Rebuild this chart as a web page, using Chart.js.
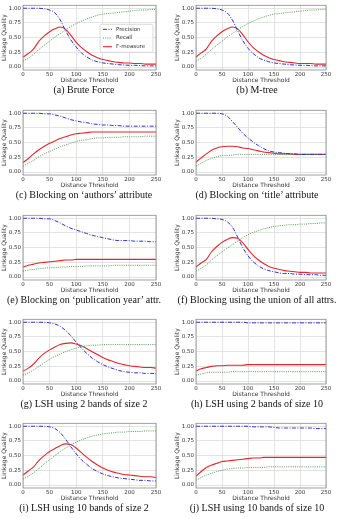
<!DOCTYPE html>
<html>
<head>
<meta charset="utf-8">
<script src="https://cdn.jsdelivr.net/npm/chart.js@4.4.1/dist/chart.umd.min.js"></script>
<style>
body { margin: 0; background: #fff; width: 339px; height: 519px; position: relative; overflow: hidden; }
canvas.panel { position: absolute; }
.caption { position: absolute; width: 180px; text-align: center; white-space: nowrap;
    font-family: 'Liberation Serif', serif; font-size: 10px; color: #111; }
</style>
</head>
<body>
<div id="figure"></div>
<script>

const thresholds = [0, 10, 20, 30, 40, 50, 60, 70, 80, 90, 100, 110, 120, 130,
    140, 150, 160, 170, 180, 190, 200, 210, 220, 230, 240, 250];
const xTicks = [0, 50, 100, 150, 200, 250];
const yTicks = [0, 0.25, 0.5, 0.75, 1.0];
const seriesNames = ['Precision', 'Recall', 'F-measure'];

// (a) Brute Force
const bruteP = [1.00,1.00,1.00,1.00,0.99,0.97,0.92,0.80,0.62,0.46,0.34,0.24,0.17,0.12,0.09,0.07,0.06,0.05,0.04,0.035,0.03,0.03,0.025,0.02,0.02,0.02];
const bruteR = [0.10,0.15,0.22,0.30,0.37,0.44,0.51,0.57,0.63,0.69,0.74,0.78,0.82,0.85,0.88,0.90,0.91,0.92,0.93,0.94,0.95,0.96,0.97,0.97,0.98,0.98];
const bruteF = [0.17,0.23,0.31,0.44,0.53,0.60,0.65,0.68,0.64,0.54,0.42,0.33,0.26,0.20,0.16,0.13,0.11,0.09,0.08,0.07,0.07,0.06,0.06,0.05,0.05,0.05];

// (b) M-tree
const mtreeP = [1.00,1.00,1.00,1.00,0.99,0.97,0.92,0.80,0.62,0.45,0.32,0.23,0.16,0.12,0.09,0.07,0.06,0.05,0.04,0.035,0.03,0.03,0.025,0.02,0.02,0.02];
const mtreeR = [0.10,0.15,0.22,0.30,0.37,0.44,0.51,0.57,0.63,0.69,0.74,0.78,0.82,0.85,0.88,0.90,0.91,0.92,0.93,0.94,0.95,0.96,0.97,0.97,0.98,0.98];
const mtreeF = [0.17,0.24,0.31,0.44,0.53,0.60,0.65,0.68,0.65,0.55,0.43,0.33,0.26,0.20,0.16,0.13,0.11,0.09,0.08,0.07,0.06,0.06,0.06,0.05,0.05,0.05];

// (c) Blocking on authors
const authorsP = [1.00,1.00,1.00,1.00,0.99,0.99,0.97,0.95,0.92,0.89,0.87,0.85,0.84,0.82,0.81,0.80,0.80,0.79,0.79,0.78,0.78,0.78,0.78,0.78,0.78,0.78];
const authorsR = [0.10,0.15,0.20,0.26,0.31,0.35,0.39,0.43,0.46,0.49,0.52,0.54,0.55,0.57,0.58,0.58,0.59,0.59,0.59,0.60,0.60,0.60,0.60,0.61,0.61,0.61];
const authorsF = [0.16,0.23,0.31,0.38,0.44,0.49,0.53,0.57,0.60,0.63,0.65,0.66,0.67,0.68,0.68,0.68,0.68,0.68,0.68,0.68,0.68,0.68,0.68,0.68,0.68,0.68];

// (d) Blocking on title
const titleP = [1.00,1.00,1.00,1.00,1.00,0.99,0.95,0.86,0.76,0.66,0.58,0.51,0.45,0.40,0.36,0.34,0.33,0.32,0.31,0.31,0.30,0.30,0.30,0.30,0.30,0.30];
const titleR = [0.10,0.15,0.20,0.23,0.26,0.28,0.28,0.29,0.30,0.30,0.30,0.30,0.30,0.30,0.30,0.30,0.30,0.30,0.30,0.30,0.30,0.30,0.30,0.30,0.30,0.30];
const titleF = [0.17,0.24,0.31,0.37,0.41,0.43,0.44,0.44,0.43,0.41,0.40,0.38,0.36,0.34,0.33,0.32,0.31,0.31,0.31,0.30,0.30,0.30,0.30,0.30,0.30,0.30];

// (e) Blocking on publication year
const yearP = [1.00,1.00,1.00,1.00,0.99,0.99,0.96,0.92,0.87,0.83,0.80,0.77,0.74,0.71,0.69,0.67,0.65,0.63,0.62,0.62,0.62,0.61,0.61,0.61,0.60,0.60];
const yearR = [0.10,0.12,0.13,0.14,0.15,0.16,0.16,0.17,0.17,0.18,0.18,0.18,0.19,0.19,0.19,0.19,0.19,0.20,0.20,0.20,0.20,0.20,0.20,0.20,0.20,0.20];
const yearF = [0.17,0.20,0.22,0.24,0.25,0.26,0.27,0.28,0.29,0.29,0.30,0.30,0.30,0.30,0.30,0.30,0.30,0.30,0.30,0.30,0.30,0.30,0.30,0.30,0.30,0.30];

// (f) Blocking using the union of all attrs
const unionP = [1.00,1.00,1.00,1.00,0.99,0.98,0.94,0.85,0.68,0.50,0.36,0.26,0.19,0.14,0.11,0.09,0.07,0.06,0.06,0.05,0.05,0.04,0.04,0.04,0.03,0.03];
const unionR = [0.10,0.15,0.21,0.29,0.36,0.43,0.49,0.55,0.61,0.67,0.72,0.76,0.79,0.82,0.84,0.86,0.87,0.88,0.89,0.89,0.90,0.90,0.91,0.91,0.92,0.92];
const unionF = [0.17,0.24,0.30,0.43,0.52,0.59,0.64,0.67,0.66,0.58,0.47,0.37,0.29,0.23,0.18,0.15,0.13,0.11,0.10,0.09,0.08,0.08,0.07,0.07,0.07,0.07];

// (g) LSH, 2 bands of size 2
const lsh2x2P = [1.00,1.00,1.00,1.00,1.00,0.99,0.97,0.93,0.86,0.77,0.66,0.56,0.47,0.39,0.33,0.28,0.24,0.21,0.18,0.16,0.15,0.14,0.14,0.13,0.13,0.13];
const lsh2x2R = [0.10,0.14,0.19,0.25,0.31,0.37,0.42,0.46,0.50,0.53,0.56,0.58,0.60,0.61,0.61,0.62,0.62,0.62,0.62,0.62,0.62,0.62,0.62,0.62,0.62,0.62];
const lsh2x2F = [0.17,0.22,0.29,0.39,0.47,0.53,0.58,0.62,0.64,0.65,0.63,0.60,0.55,0.50,0.45,0.40,0.36,0.33,0.30,0.28,0.26,0.25,0.24,0.23,0.23,0.22];

// (h) LSH, 2 bands of size 10
const lsh2x10P = [1.00,1.00,1.00,1.00,1.00,1.00,1.00,1.00,1.00,1.00,0.99,0.99,0.99,0.99,0.99,0.99,0.99,0.99,0.99,0.99,0.99,0.99,0.99,0.99,0.99,0.99];
const lsh2x10R = [0.10,0.12,0.14,0.15,0.15,0.15,0.15,0.16,0.16,0.16,0.16,0.16,0.16,0.16,0.16,0.16,0.16,0.16,0.16,0.16,0.16,0.16,0.16,0.16,0.16,0.16];
const lsh2x10F = [0.17,0.21,0.23,0.25,0.26,0.26,0.27,0.27,0.27,0.27,0.28,0.28,0.28,0.28,0.28,0.28,0.28,0.28,0.28,0.28,0.28,0.28,0.28,0.28,0.28,0.28];

// (i) LSH, 10 bands of size 2
const lsh10x2P = [1.00,1.00,1.00,1.00,1.00,0.99,0.96,0.89,0.78,0.65,0.53,0.43,0.35,0.28,0.23,0.19,0.16,0.14,0.12,0.11,0.10,0.09,0.08,0.08,0.07,0.07];
const lsh10x2R = [0.10,0.15,0.21,0.28,0.36,0.43,0.50,0.57,0.63,0.68,0.73,0.77,0.80,0.83,0.85,0.87,0.88,0.89,0.90,0.90,0.91,0.91,0.91,0.92,0.92,0.92];
const lsh10x2F = [0.17,0.24,0.31,0.42,0.50,0.57,0.62,0.67,0.70,0.69,0.63,0.55,0.47,0.40,0.34,0.29,0.25,0.22,0.20,0.18,0.17,0.16,0.15,0.14,0.14,0.13];

// (j) LSH, 10 bands of size 10
const lsh10x10P = [1.00,1.00,1.00,1.00,1.00,1.00,1.00,1.00,1.00,1.00,1.00,0.99,0.99,0.99,0.99,0.98,0.97,0.97,0.97,0.97,0.97,0.97,0.97,0.96,0.96,0.96];
const lsh10x10R = [0.08,0.13,0.17,0.20,0.23,0.25,0.27,0.28,0.29,0.29,0.30,0.30,0.30,0.30,0.31,0.31,0.31,0.31,0.31,0.31,0.31,0.31,0.31,0.31,0.31,0.31];
const lsh10x10F = [0.15,0.23,0.30,0.34,0.37,0.40,0.41,0.42,0.43,0.44,0.45,0.46,0.46,0.47,0.47,0.47,0.47,0.47,0.47,0.47,0.47,0.47,0.47,0.47,0.47,0.47];


const panels = [
    ['(a) Brute Force', bruteP, bruteR, bruteF],
    ['(b) M-tree', mtreeP, mtreeR, mtreeF],
    ['(c) Blocking on \u2018authors\u2019 attribute', authorsP, authorsR, authorsF],
    ['(d) Blocking on \u2018title\u2019 attribute', titleP, titleR, titleF],
    ['(e) Blocking on \u2018publication year\u2019 attr.', yearP, yearR, yearF],
    ['(f) Blocking using the union of all attrs.', unionP, unionR, unionF],
    ['(g) LSH using 2 bands of size 2', lsh2x2P, lsh2x2R, lsh2x2F],
    ['(h) LSH using 2 bands of size 10', lsh2x10P, lsh2x10R, lsh2x10F],
    ['(i) LSH using 10 bands of size 2', lsh10x2P, lsh10x2R, lsh10x2F],
    ['(j) LSH using 10 bands of size 10', lsh10x10P, lsh10x10R, lsh10x10F],
];


// Layout of the 5 x 2 grid

const rowTops = [0, 105, 210, 314, 418];
const colLefts = [0, 171];
const yAxisWidth = [23, 25];
const canvasW = 168, canvasH = 86;

const lineStyles = [
    {color: '#2f2fd6', dash: [4, 1.5, 1, 1.5], width: 1},
    {color: '#4f9f4f', dash: [1, 1.2], width: 1},
    {color: '#e2262c', dash: [], width: 1.1},
];


// frame around the plot area, drawn over the lines
const framePlugin = {
    id: 'frame',
    afterDatasetsDraw(chart) {
        const {ctx, chartArea: a} = chart;
        ctx.save();
        ctx.strokeStyle = '#8a8a8a';
        ctx.lineWidth = 0.8;
        ctx.strokeRect(a.left, a.top, a.right - a.left, a.bottom - a.top);
        ctx.restore();
    }
};

// legend placed inside the plot, only on the first panel
const insideLegend = {
    id: 'insideLegend',
    afterDraw(chart, args, opts) {
        if (!opts.show) return;
        const {ctx, chartArea: a} = chart;
        const w = 53, h = 28;
        const x = a.right - w - 3, y = a.top + 19;
        ctx.save();
        ctx.fillStyle = 'rgba(255,255,255,0.85)';
        ctx.strokeStyle = '#d0d0d0';
        ctx.lineWidth = 0.8;
        ctx.beginPath();
        ctx.roundRect(x, y, w, h, 2);
        ctx.fill();
        ctx.stroke();
        ctx.font = '5.5px "DejaVu Sans"';
        ctx.textBaseline = 'middle';
        chart.data.datasets.forEach((ds, i) => {
            const ly = y + 5 + i * 8.7;
            ctx.strokeStyle = ds.borderColor;
            ctx.lineWidth = ds.borderWidth;
            ctx.setLineDash(ds.borderDash);
            ctx.beginPath();
            ctx.moveTo(x + 3, ly);
            ctx.lineTo(x + 12, ly);
            ctx.stroke();
            ctx.setLineDash([]);
            ctx.fillStyle = '#333';
            ctx.fillText(ds.label, x + 16, ly);
        });
        ctx.restore();
    }
};


function make_panel(i, caption, prec, rec, fm) {

    var col = i % 2;
    var row = Math.floor(i / 2);
    var left = colLefts[col];
    var top = rowTops[row];

    var canvas = document.createElement('canvas');
    canvas.className = 'panel';
    canvas.width = canvasW;
    canvas.height = canvasH;
    canvas.style.left = left + 'px';
    canvas.style.top = top + 'px';
    document.body.appendChild(canvas);

    var cap = document.createElement('div');
    cap.className = 'caption';
    cap.textContent = caption;
    cap.style.left = (left + yAxisWidth[col] + 66 - 5 - 90) + 'px';
    cap.style.top = (top + 84) + 'px';
    document.body.appendChild(cap);

    var datasets = [prec, rec, fm].map(function(arr, s) {
        return {
            label: seriesNames[s],
            data: thresholds.map(function(t, k) { return {x: t, y: arr[k]}; }),
            borderColor: lineStyles[s].color,
            borderDash: lineStyles[s].dash,
            borderWidth: lineStyles[s].width,
            pointRadius: 0,
            fill: false,
            cubicInterpolationMode: 'monotone',
        };
    });
    // draw F-measure last? keep matplotlib order: precision, recall, f-measure
    new Chart(canvas.getContext('2d'), {
        type: 'line',
        data: {datasets: datasets},
        plugins: [framePlugin, insideLegend],
        options: {
            responsive: false,
            animation: false,
            events: [],
            layout: {padding: {top: 4, right: canvasW - (yAxisWidth[col] + 133 - col * 3), left: 0, bottom: 0}},
            scales: {
                x: {
                    type: 'linear',
                    min: 0, max: 250,
                    afterBuildTicks: function(s) { s.ticks = xTicks.map(function(v) { return {value: v}; }); },
                    afterFit: function(s) { s.height = canvasH - 70; },
                    grid: {color: '#dcdcdc', lineWidth: 0.8, drawTicks: false},
                    border: {display: false},
                    ticks: {padding: 1, color: '#333', font: {family: 'DejaVu Sans', size: 5.5},
                        maxRotation: 0, callback: function(v) { return v; }},
                    title: {display: true, text: 'Distance Threshold', color: '#333',
                        font: {family: 'DejaVu Sans', size: 6}, padding: {top: 0, bottom: 1.5}},
                },
                y: {
                    min: -0.05, max: 1.05,
                    afterBuildTicks: function(s) { s.ticks = yTicks.map(function(v) { return {value: v}; }); },
                    afterFit: function(s) { s.width = yAxisWidth[col]; },
                    grid: {color: '#dcdcdc', lineWidth: 0.8, drawTicks: false},
                    border: {display: false},
                    ticks: {padding: 2, color: '#333', font: {family: 'DejaVu Sans', size: 5.5},
                        callback: function(v) { return v.toFixed(2); }},
                    title: {display: true, text: 'Linkage Quality', color: '#333',
                        font: {family: 'DejaVu Sans', size: 6}, padding: {top: 1 + col * 2, bottom: 0}},
                },
            },
            plugins: {
                legend: {display: false},
                tooltip: {enabled: false},
                insideLegend: {show: i === 0},
            },
        },
    });
}

panels.forEach(function(p, i) { make_panel(i, p[0], p[1], p[2], p[3]); });

</script>
</body>
</html>
